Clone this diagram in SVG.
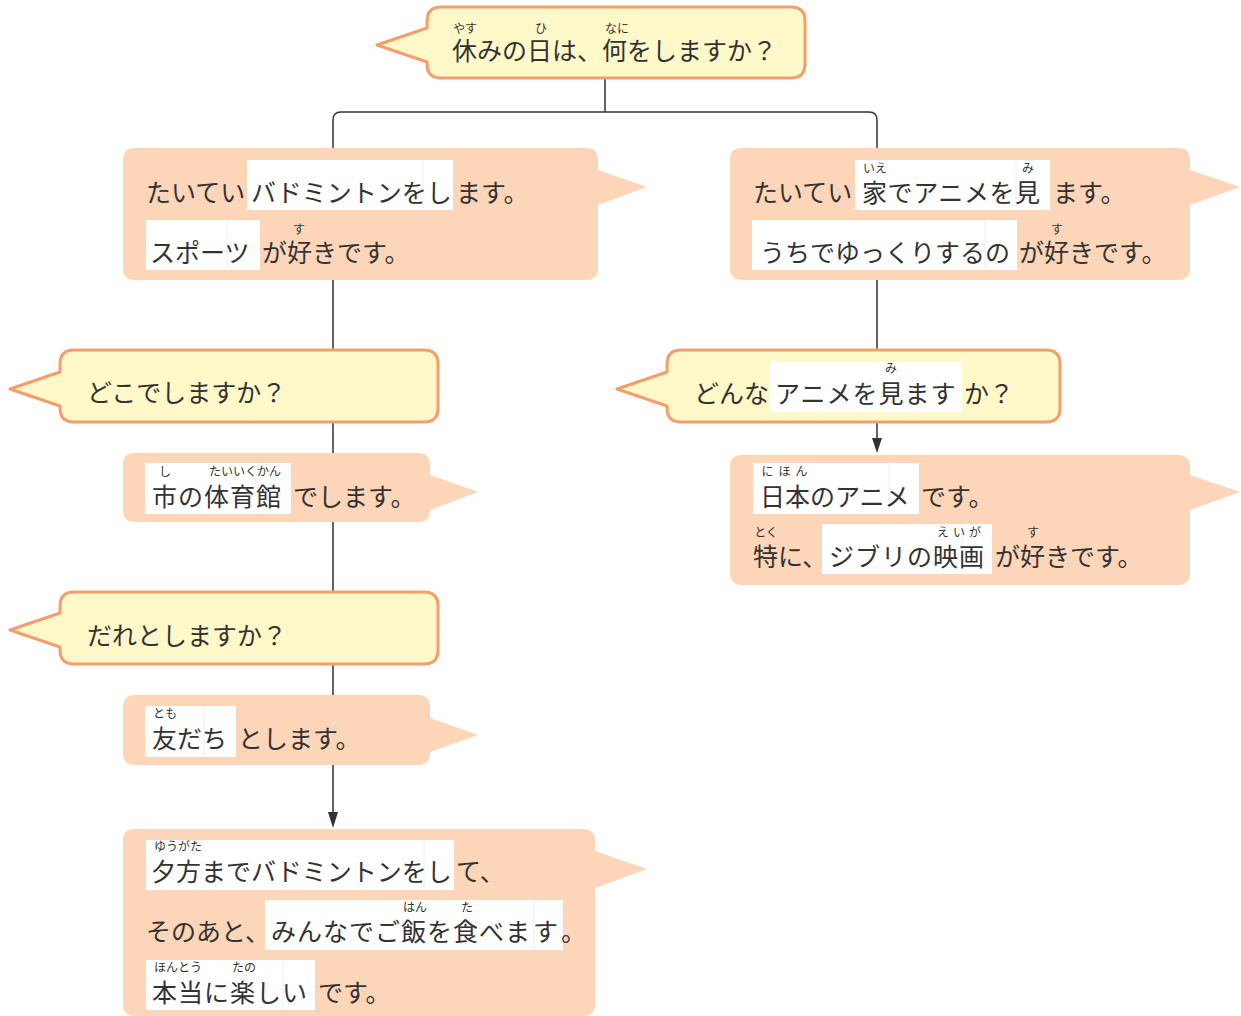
<svg xmlns="http://www.w3.org/2000/svg" width="1241" height="1016" viewBox="0 0 1241 1016">
<defs>
<style>
.q{fill:#FFF9C9;stroke:#F59E6C;stroke-width:3;stroke-linejoin:round}
.a{fill:#FDD5B9}
.box{fill:#FFFFFF}
.dv{stroke:#F3ECE6;stroke-width:1}
.t{font-family:"Noto Sans CJK JP","Noto Sans",sans-serif;font-size:25px;fill:#333333}
.r{font-family:"Noto Sans CJK JP","Noto Sans",sans-serif;font-size:12px;fill:#333333;text-anchor:middle}
.ln{fill:none;stroke:#333333;stroke-width:1.5}
</style>
</defs>
<rect width="1241" height="1016" fill="#FFFFFF"/>

<g id="connectors">
<path class="ln" d="M605,78 V112"/>
<path class="ln" d="M333,148 V120 Q333,112 341,112 H869 Q877,112 877,120 V148"/>
<path class="ln" d="M333,280 V814"/>
<path d="M328,812 L338,812 L333,828 Z" fill="#333333"/>
<path class="ln" d="M877,280 V440"/>
<path d="M872,438 L882,438 L877,453 Z" fill="#333333"/>
</g>

<g id="q-top">
<path class="q" d="M441,7 H791 Q805,7 805,21 V64 Q805,78 791,78 H441 Q427,78 427,64 V62 L377,45 L427,28 V21 Q427,7 441,7 Z"/>
<text class="t" x="452" y="60">休みの日は、何をしますか？</text>
<text class="r" x="465" y="33">やす</text>
<text class="r" x="541" y="33">ひ</text>
<text class="r" x="617" y="33">なに</text>
</g>

<g id="a-badminton">
<path class="a" d="M135,148 H586 Q598,148 598,160 V170 L647,187 L598,205 V268 Q598,280 586,280 H135 Q123,280 123,268 V160 Q123,148 135,148 Z"/>
<rect class="box" x="247" y="160" width="206" height="50"/>
<line class="dv" x1="423" y1="160" x2="423" y2="210"/>
<rect class="box" x="146" y="220" width="114" height="50"/>
<line class="dv" x1="227" y1="220" x2="227" y2="270"/>
<text class="t" x="146" y="202">たいてい</text>
<text class="t" x="251" y="202">バドミントンをし</text>
<text class="t" x="456" y="202">ます。</text>
<text class="t" x="150" y="262">スポーツ</text>
<text class="t" x="262" y="262">が好きです。</text>
<text class="r" x="299" y="234">す</text>
</g>

<g id="a-anime">
<path class="a" d="M742,148 H1178 Q1190,148 1190,160 V170 L1240,187 L1190,205 V268 Q1190,280 1178,280 H742 Q730,280 730,268 V160 Q730,148 742,148 Z"/>
<rect class="box" x="855" y="160" width="195" height="50"/>
<line class="dv" x1="1016" y1="160" x2="1016" y2="210"/>
<rect class="box" x="752" y="220" width="265" height="50"/>
<line class="dv" x1="985" y1="220" x2="985" y2="270"/>
<text class="t" x="753" y="202">たいてい</text>
<text class="t" x="862" y="202" letter-spacing="0.6">家でアニメを見</text>
<text class="t" x="1053" y="202">ます。</text>
<text class="r" x="875" y="173">いえ</text>
<text class="r" x="1028" y="173">み</text>
<text class="t" x="760" y="262">うちでゆっくりするの</text>
<text class="t" x="1019" y="262">が好きです。</text>
<text class="r" x="1057" y="234">す</text>
</g>

<g id="q-where">
<path class="q" d="M74,350 H424 Q438,350 438,364 V408 Q438,422 424,422 H74 Q60,422 60,408 V406 L10,389 L60,372 V364 Q60,350 74,350 Z"/>
<text class="t" x="87" y="402">どこでしますか？</text>
</g>

<g id="a-gym">
<path class="a" d="M135,453 H418 Q430,453 430,465 V475 L478,492 L430,510 V510 Q430,522 418,522 H135 Q123,522 123,510 V465 Q123,453 135,453 Z"/>
<rect class="box" x="145" y="463" width="146" height="51"/>
<line class="dv" x1="258" y1="463" x2="258" y2="514"/>
<text class="t" x="152" y="506" letter-spacing="1">市の体育館</text>
<text class="t" x="293" y="506">でします。</text>
<text class="r" x="165" y="476">し</text>
<text class="r" x="245" y="476">たいいくかん</text>
</g>

<g id="q-who">
<path class="q" d="M74,592 H424 Q438,592 438,606 V650 Q438,664 424,664 H74 Q60,664 60,650 V647 L10,630 L60,613 V606 Q60,592 74,592 Z"/>
<text class="t" x="87" y="645">だれとしますか？</text>
</g>

<g id="a-friend">
<path class="a" d="M135,695 H418 Q430,695 430,707 V718 L478,735 L430,752 V753 Q430,765 418,765 H135 Q123,765 123,753 V707 Q123,695 135,695 Z"/>
<rect class="box" x="145" y="706" width="91" height="51"/>
<line class="dv" x1="204" y1="706" x2="204" y2="757"/>
<text class="t" x="152" y="748">友だち</text>
<text class="t" x="238" y="748">とします。</text>
<text class="r" x="165" y="718">とも</text>
</g>

<g id="a-evening">
<path class="a" d="M135,829 H583 Q595,829 595,841 V851 L647,869 L595,888 V1004 Q595,1016 583,1016 H135 Q123,1016 123,1004 V841 Q123,829 135,829 Z"/>
<rect class="box" x="146" y="840" width="308" height="50"/>
<line class="dv" x1="424" y1="840" x2="424" y2="890"/>
<text class="t" x="151" y="881">夕方までバドミントンをし</text>
<text class="t" x="456" y="881">て、</text>
<text class="r" x="178" y="851">ゆうがた</text>
<rect class="box" x="265" y="900" width="298" height="50"/>
<line class="dv" x1="534" y1="900" x2="534" y2="950"/>
<text class="t" x="146" y="941">そのあと、</text>
<text class="t" x="271" y="941" letter-spacing="1">みんなでご飯を食べま</text>
<text class="t" x="533" y="941">す</text>
<text class="t" x="561" y="941">。</text>
<text class="r" x="415" y="912">はん</text>
<text class="r" x="467" y="912">た</text>
<rect class="box" x="146" y="960" width="169" height="50"/>
<line class="dv" x1="283" y1="960" x2="283" y2="1010"/>
<text class="t" x="152" y="1002" letter-spacing="1">本当に楽しい</text>
<text class="t" x="318" y="1002">です。</text>
<text class="r" x="178" y="972">ほんとう</text>
<text class="r" x="244" y="972">たの</text>
</g>

<g id="q-what-anime">
<path class="q" d="M681,350 H1046 Q1060,350 1060,364 V408 Q1060,422 1046,422 H681 Q667,422 667,408 V406 L617,389 L667,372 V364 Q667,350 681,350 Z"/>
<rect class="box" x="770" y="362" width="192" height="50"/>
<text class="t" x="694" y="403">どんな</text>
<text class="t" x="775" y="403" letter-spacing="1">アニメを見ます</text>
<text class="t" x="964" y="403">か？</text>
<text class="r" x="891" y="373">み</text>
</g>

<g id="a-ghibli">
<path class="a" d="M742,455 H1178 Q1190,455 1190,467 V475 L1240,492 L1190,510 V573 Q1190,585 1178,585 H742 Q730,585 730,573 V467 Q730,455 742,455 Z"/>
<rect class="box" x="753" y="463" width="166" height="51"/>
<line class="dv" x1="889" y1="463" x2="889" y2="514"/>
<text class="t" x="760" y="506">日本のアニメ</text>
<text class="t" x="921" y="506">です。</text>
<text class="r" x="787" y="476" letter-spacing="5">にほん</text>
<rect class="box" x="822" y="524" width="170" height="50"/>
<line class="dv" x1="962" y1="524" x2="962" y2="574"/>
<text class="t" x="753" y="566">特に、</text>
<text class="r" x="766" y="537">とく</text>
<text class="t" x="829" y="566" letter-spacing="1">ジブリの映画</text>
<text class="r" x="961" y="537" letter-spacing="4">えいが</text>
<text class="t" x="995" y="566">が好きです。</text>
<text class="r" x="1033" y="537">す</text>
</g>
</svg>
